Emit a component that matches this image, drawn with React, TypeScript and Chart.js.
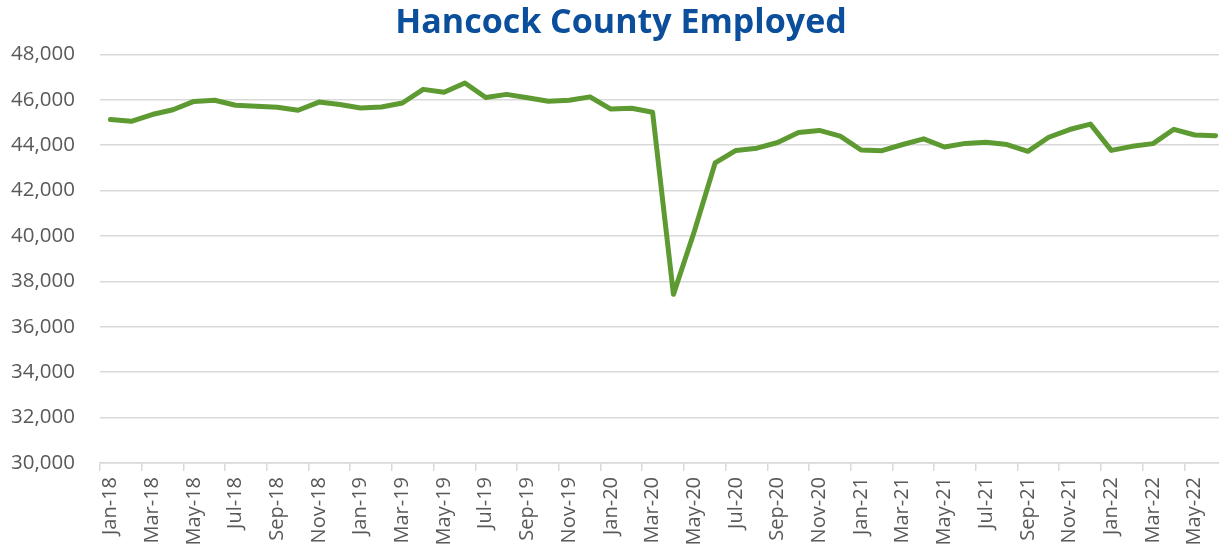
import React, { useEffect, useRef } from "react";
import { Chart, registerables } from "chart.js";

Chart.register(...registerables);

const MONTHS = ["Jan", "Feb", "Mar", "Apr", "May", "Jun", "Jul", "Aug", "Sep", "Oct", "Nov", "Dec"];
const YEARS = ["18", "19", "20", "21", "22"];
const categories: string[] = [];
YEARS.forEach((y) => MONTHS.forEach((m) => categories.push(`${m}-${y}`)));
const labels = categories.slice(0, 54);

const employed = [
  45130, 45050, 45350, 45560, 45930, 45980, 45760, 45720, 45670, 45540, 45900, 45790,
  45640, 45680, 45860, 46460, 46330, 46740, 46100, 46240, 46090, 45940, 45980, 46130,
  45590, 45630, 45450, 37430, 40200, 43220, 43770, 43870, 44120, 44560, 44650, 44400,
  43790, 43760, 44030, 44280, 43920, 44080, 44130, 44030, 43730, 44350, 44690, 44930,
  43770, 43950, 44070, 44700, 44450, 44420,
];

const yMin = 30000;
const yMax = 48000;
const yStep = 2000;

const shiftTitle = {
  id: "shiftTitle",
  afterLayout(chart: any) {
    if (chart.titleBlock) {
      chart.titleBlock.left = 16;
    }
  },
};

export default function App() {
  const ref = useRef<HTMLCanvasElement>(null);
  useEffect(() => {
    if (!ref.current) return;
    const chart = new Chart(ref.current, {
      type: "line",
      data: {
        labels,
        datasets: [
          {
            data: employed,
            borderColor: "#5E9A32",
            borderWidth: 5,
            pointRadius: 0,
            tension: 0,
            borderJoinStyle: "round",
            borderCapStyle: "round",
          },
        ],
      },
      plugins: [shiftTitle],
      options: {
        animation: false,
        responsive: false,
        layout: { padding: { left: 0, right: 0, top: 0, bottom: 0 } },
        plugins: {
          legend: { display: false },
          tooltip: { enabled: false },
          title: {
            display: true,
            text: "Hancock County Employed",
            color: "#0B4F9C",
            font: { family: "Open Sans", size: 34, weight: "bold" },
            padding: { top: 3, bottom: 10.6 },
          },
        },
        scales: {
          x: {
            offset: true,
            grid: {
              offset: true,
              drawOnChartArea: false,
              drawTicks: true,
              tickLength: 8,
              color: (ctx: any) => (ctx.index % 2 === 0 ? "#D9D9D9" : "rgba(0,0,0,0)"),
              lineWidth: 1.5,
            },
            border: { display: true, color: "#D9D9D9", width: 1.5 },
            ticks: {
              autoSkip: false,
              maxRotation: 90,
              minRotation: 90,
              padding: 6,
              color: "#595959",
              font: { family: "Open Sans", size: 20 },
              callback: (_v: any, i: number) => (i % 2 === 0 ? labels[i] : ""),
            },
            afterFit: (s: any) => {
              s.height = 89;
              s.paddingLeft = 0;
              s.paddingRight = 0;
            },
          },
          y: {
            min: yMin,
            max: yMax,
            grid: { color: "#D9D9D9", lineWidth: 1.5, drawTicks: false },
            border: { display: false },
            ticks: {
              stepSize: yStep,
              padding: 25,
              color: "#595959",
              font: { family: "Open Sans", size: 20.5 },
              callback: (v: any) => Number(v).toLocaleString("en-US"),
            },
            afterFit: (s: any) => {
              s.width = 100;
            },
          },
        },
      },
    });
    return () => chart.destroy();
  }, []);
  return (
    <div style={{ position: "fixed", left: 0, top: 0, width: "100vw", height: "100vh", overflow: "hidden", background: "#fff" }}>
      <canvas ref={ref} width={1226} height={552} style={{ display: "block" }} />
    </div>
  );
}
